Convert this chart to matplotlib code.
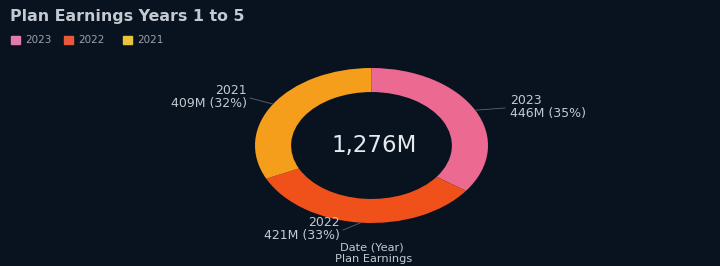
import numpy as np
import matplotlib
matplotlib.use("Agg")
import matplotlib.pyplot as plt
from matplotlib.lines import Line2D

title = "Plan Earnings Years 1 to 5"
years = ["2023", "2022", "2021"]
values = [446, 421, 409]          # millions
percents = [35, 33, 32]
colors = ["#EC6A92", "#F0501A", "#F59E1B"]
legend_colors = ["#E37AAE", "#E8583A", "#E8C43A"]
center_label = "1,276M"
axis_lines = ["Date (Year)", "Plan Earnings"]

BG = "#08131F"
TXT = "#C4C9D1"
W, H = 720, 266

fig = plt.figure(figsize=(7.2, 2.66), dpi=100, facecolor=BG)

def fx(x): return x / W
def fy(y): return 1 - y / H

# donut axes, stretched (ellipse) like the reference
cx, cy, a, b = 371.5, 145.5, 116.5, 77.5
ax = fig.add_axes([fx(cx - a), fy(cy + b), 2 * a / W, 2 * b / H])
ax.set_facecolor(BG)
wedges, _ = ax.pie(values, colors=colors, startangle=90, counterclock=False,
                   radius=1.0, wedgeprops=dict(width=0.31, edgecolor="none"))
ax.set_aspect("auto")
ax.set_xlim(-1, 1)
ax.set_ylim(-1, 1)
ax.axis("off")
ax.text(0.02, 0, center_label, ha="center", va="center", color="#E6E9EE",
        fontsize=16.5)

# title and legend
fig.text(fx(10), fy(16), title, ha="left", va="center", color=TXT,
         fontsize=11.4, fontweight="bold")
lx = [11, 64, 123]
for x0, yr, c in zip(lx, years, legend_colors):
    fig.patches.append(plt.Rectangle((fx(x0), fy(44)), 9 / W, 8 / H,
                                     transform=fig.transFigure, color=c))
    fig.text(fx(x0 + 14), fy(40), yr, ha="left", va="center", color="#9AA0AA",
             fontsize=7.5)

# data labels with leader lines
label_pos = {"2023": (510, 101, "left", 505),
             "2022": (340, 223, "right", 343),
             "2021": (247, 91, "right", 250)}
cum = 0
total = sum(values)
for yr, v, p in zip(years, values, percents):
    mid = (cum + v / 2) / total * 2 * np.pi
    cum += v
    ex = cx + a * np.sin(mid)
    ey = cy - b * np.cos(mid)
    tx, ty, ha, lend = label_pos[yr]
    fig.add_artist(Line2D([fx(ex), fx(lend)], [fy(ey), fy(ty + 7)],
                          color="#5B6472", lw=0.6, transform=fig.transFigure))
    fig.text(fx(tx), fy(ty), yr, ha=ha, va="center", color=TXT, fontsize=9)
    fig.text(fx(tx), fy(ty + 12.5), f"{v}M ({p}%)", ha=ha, va="center",
             color=TXT, fontsize=9)

fig.text(fx(372), fy(247), axis_lines[0], ha="center", va="center",
         color=TXT, fontsize=8.2)
fig.text(fx(374), fy(258.5), axis_lines[1], ha="center", va="center",
         color=TXT, fontsize=8.2)

fig.savefig("out.png", dpi=100, facecolor=BG)
